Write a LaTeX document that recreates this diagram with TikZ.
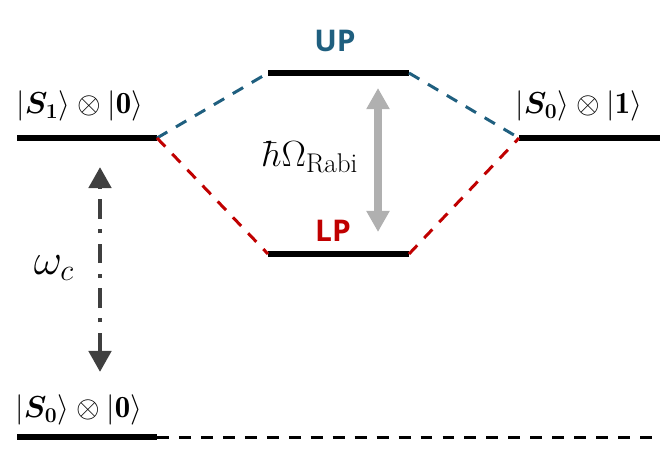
\documentclass[tikz,border=0pt]{standalone}
\usepackage{amsmath,bm}
\usepackage{fontspec}
\newfontfamily\labelfont{Open Sans}
\usetikzlibrary{arrows.meta}
\definecolor{upblue}{HTML}{1F5F7F}
\definecolor{lpred}{HTML}{C00000}
\definecolor{darkarrow}{HTML}{3F3F3F}
\definecolor{rabigray}{HTML}{B0B0B0}
\tikzset{
  level/.style={line width=3.4pt, black},
  coupling/.style={line width=1.7pt, dash pattern=on 6.8pt off 5.7pt},
  statelabel/.style={anchor=west, inner sep=0pt, font=\fontsize{17.5}{21}\selectfont},
  polariton/.style={inner sep=0pt, font=\labelfont\bfseries\fontsize{17}{20}\selectfont}
}
\begin{document}
\begin{tikzpicture}[x=0.02cm, y=0.02cm]
\useasboundingbox (0,0) rectangle (665,464);
% energy levels
\coordinate (s1l) at (17,326);
\coordinate (s1r) at (157,326);
\coordinate (upl) at (268,391);
\coordinate (upr) at (409,391);
\coordinate (lpl) at (268,210);
\coordinate (lpr) at (409,210);
\coordinate (s01l) at (519,326);
\coordinate (s01r) at (660,326);
\coordinate (gl) at (17,27);
\coordinate (gr) at (157,27);
\coordinate (ge) at (660,27);
\draw [level] (s1l) -- (s1r);
\draw [level] (upl) -- (upr);
\draw [level] (lpl) -- (lpr);
\draw [level] (s01l) -- (s01r);
\draw [level] (gl) -- (gr);
\draw [coupling, black] (gr) -- (ge);
% couplings
\draw [coupling, upblue] (s1r) -- (upl);
\draw [coupling, upblue] (upr) -- (s01l);
\draw [coupling, lpred] (s1r) -- (lpl);
\draw [coupling, lpred] (lpr) -- (s01l);
% labels
\node [statelabel] (s1lab) at (16,358) {$|\bm{S_1}\rangle\otimes|\mathbf{0}\rangle$};
\node [statelabel] (s01lab) at (515,358) {$|\bm{S_0}\rangle\otimes|\mathbf{1}\rangle$};
\node [statelabel] (s00lab) at (15,54) {$|\bm{S_0}\rangle\otimes|\mathbf{0}\rangle$};
\node [polariton, text=upblue] (uplab) at (335,423) {UP};
\node [polariton, text=lpred] (lplab) at (333,233) {LP};
\node [inner sep=0pt, font=\fontsize{22}{26}\selectfont] (rabi) at (310,307) {$\hbar\Omega_{\mathrm{Rabi}}$};
\node [inner sep=0pt, font=\fontsize{23}{27}\selectfont] (omc) at (54,196) {$\omega_c$};
% arrows
\coordinate (rabitop) at (378,376);
\coordinate (rabibot) at (378,232);
\draw [rabigray, line width=4pt, {Triangle[width=12.5pt,length=12pt]}-{Triangle[width=12.5pt,length=12pt]}] (rabibot) -- (rabitop);
\coordinate (omtop) at (100,297);
\coordinate (ombot) at (100,92);
\draw [darkarrow, line width=2.8pt, dash pattern=on 11pt off 6pt on 2.3pt off 6pt, {Triangle[width=12.5pt,length=12pt]}-{Triangle[width=12.5pt,length=12pt]}] (ombot) -- (omtop);
\end{tikzpicture}
\end{document}
